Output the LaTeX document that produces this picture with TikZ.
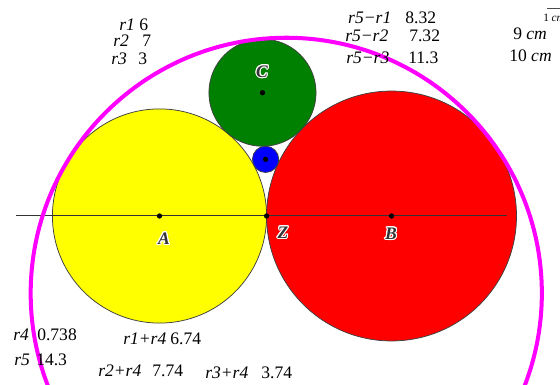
\documentclass[tikz,border=0pt]{standalone}
\usepackage{fontspec}
\setmainfont{Liberation Serif}
\usepackage{contour}
\contourlength{0.8pt}
\usetikzlibrary{calc}
\definecolor{ggyellow}{RGB}{255,255,0}
\definecolor{ggred}{RGB}{255,0,0}
\definecolor{gggreen}{RGB}{0,128,0}
\definecolor{ggblue}{RGB}{0,0,255}
\definecolor{ggmagenta}{RGB}{255,0,255}
\tikzset{
    tangent figure/.style = {x=0.5cm, y=0.5cm},
    disc/.style           = {draw=black!75, line width=0.6pt},
    axis/.style           = {draw=black!80, line width=0.8pt},
    outer/.style          = {draw=ggmagenta, line width=3.2pt},
    centre/.style         = {circle, fill=black, inner sep=1.5pt},
    ptlabel/.style        = {font=\fontsize{14}{16}\selectfont\bfseries\itshape,
                             text=black!80},
    val/.style            = {font=\fontsize{14}{16}\selectfont,
                             anchor=base west, inner sep=0pt},
    tiny/.style           = {font=\fontsize{9}{10}\selectfont,
                             anchor=base west, inner sep=0pt}
}

\begin{document}
\begin{tikzpicture}[tangent figure]
\clip (-8.936,-9.468) rectangle (22.437,12.101);

% ================= Centres =================
\coordinate (A) at (0,0);
\coordinate (B) at (13,0);
\coordinate (C) at (5.7692,6.9077);
\coordinate (D) at (5.9433,3.1740);
\coordinate (M) at (7.1014,-4.3323);
\coordinate (Z) at (6,0);

% ================= Circles =================
\draw[disc, fill=ggyellow] (A) circle[radius=6];
\draw[disc, fill=ggred] (B) circle[radius=7];
\draw[disc, fill=gggreen] (C) circle[radius=3];
\draw[disc, fill=ggblue] (D) circle[radius=0.7377];

% ================= Axis =================
\coordinate (axisL) at (-8.039,0);
\coordinate (axisR) at (19.468,0);
\draw[axis] (axisL) -- (axisR);

% ================= Outer circle =================
\draw[outer] (M) circle[radius=14.3186];

% ================= Points and labels =================
\node[centre] (pA) at (A) {};
\node[centre] (pB) at (B) {};
\node[centre] (pC) at (C) {};
\node[centre] (pD) at (D) {};
\node[centre] (pZ) at (Z) {};
\node[ptlabel] (lA) at (0.252,-1.289) {\contour{white}{A}};
\node[ptlabel] (lZ) at (6.919,-0.952) {\contour{white}{Z}};
\node[ptlabel] (lB) at (12.969,-1.008) {\contour{white}{B}};
\node[ptlabel] (lC) at (5.742,8.067) {\contour{white}{C}};

% ================= Radii =================
\node[val] (r1) at (-2.269,10.364) {\textit{r1} 6};
\node[val] (r2) at (-2.605,9.468) {\textit{r2}\hspace{10.7pt}7};
\node[val] (r3) at (-2.717,8.515) {\textit{r3}\hspace{9.1pt}3};
\node[val] (r4) at (-8.207,-7.003) {\textit{r4}\hspace{6.7pt}0.738};
\node[val] (r5) at (-8.151,-8.403) {\textit{r5}\hspace{5.1pt}14.3};

% ================= Distances =================
\node[val] (d51) at (10.560,10.812) {\textit{r5−r1}\hspace{11.2pt}8.32};
\node[val] (d52) at (10.392,9.748) {\textit{r5−r2}\hspace{16.7pt}7.32};
\node[val] (d53) at (10.448,8.571) {\textit{r5−r3}\hspace{15.1pt}11.3};
\node[val] (d14) at (-2.045,-7.227) {\textit{r1+r4}\hspace{3.2pt}6.74};
\node[val] (d24) at (-3.445,-8.964) {\textit{r2+r4}\hspace{8.8pt}7.74};
\node[val] (d34) at (2.549,-9.132) {\textit{r3+r4}\hspace{10.4pt}3.74};
\node[val] (d13) at (19.804,9.860) {9 \textit{cm}};
\node[val] (d23) at (19.580,8.683) {10 \textit{cm}};

% ================= Scale =================
\node[tiny] (unit) at (21.485,10.924) {1 \textit{cm}};
\coordinate (unitL) at (21.709,11.653);
\coordinate (unitR) at (22.437,11.653);
\draw[black!70, line width=0.4pt] (unitL) -- (unitR);

\end{tikzpicture}
\end{document}
